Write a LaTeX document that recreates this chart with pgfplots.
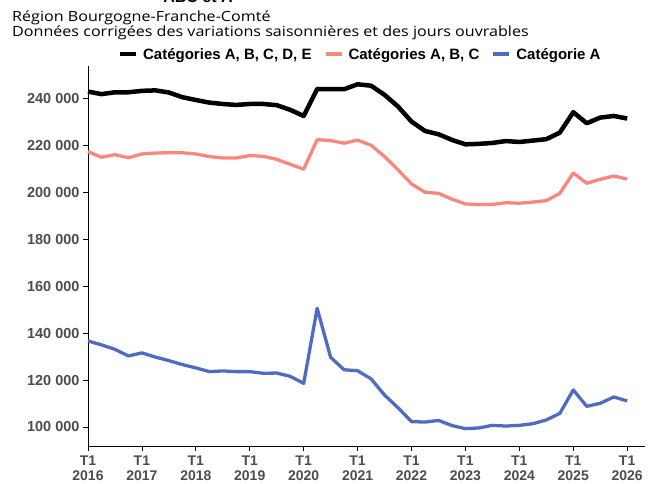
\documentclass[border=0pt]{standalone}
\usepackage{pgfplots}
\pgfplotsset{compat=1.18}
\usepackage{pgfplotstable}
\usepackage{fontspec}
\setmainfont{Liberation Sans}
\newfontfamily\subfont[FakeStretch=1.15]{Open Sans}
\definecolor{ticktext}{HTML}{4D4D4D}
\definecolor{pinkline}{HTML}{F8887E}
\definecolor{blueline}{HTML}{516BC2}

\pgfplotstableread{
x       abcde   abc     a
2016.00 243000  217400  136700
2016.25 241900  215000  135000
2016.50 242700  216100  133100
2016.75 242700  214800  130300
2017.00 243300  216400  131600
2017.25 243500  216800  129800
2017.50 242600  216900  128300
2017.75 240600  216900  126600
2018.00 239400  216400  125200
2018.25 238300  215300  123600
2018.50 237700  214700  123900
2018.75 237300  214700  123600
2019.00 237700  215700  123600
2019.25 237700  215400  122900
2019.50 237200  214100  123000
2019.75 235200  212000  121600
2020.00 232600  209900  118600
2020.25 244100  222500  150600
2020.50 244000  222100  129700
2020.75 244000  221000  124400
2021.00 246100  222300  124000
2021.25 245500  220100  120500
2021.50 241600  215300  113600
2021.75 236600  209600  108200
2022.00 230200  203600  102300
2022.25 226200  200100  102100
2022.50 224800  199600  102800
2022.75 222400  197100  100600
2023.00 220500  195100  99300
2023.25 220700  194800  99600
2023.50 221100  194900  100700
2023.75 221900  195600  100400
2024.00 221500  195400  100700
2024.25 222100  195900  101400
2024.50 222700  196500  103000
2024.75 225500  199600  105800
2025.00 234200  208300  115800
2025.25 229500  203900  108800
2025.50 231900  205600  110100
2025.75 232600  207000  112800
2026.00 231500  205700  111100
}\chomage

\begin{document}
\begin{tikzpicture}
\begin{axis}[
    at={(0pt,0pt)}, anchor=south west,
    scale only axis,
    width=557pt, height=380pt,
    xmin=2016, xmax=2026.33,
    ymin=91900, ymax=253900,
    scaled y ticks=false,
    axis lines=left,
    axis line style={black, line width=0.8pt, -},
    xtick={2016,2017,...,2026},
    xticklabels={T1\\2016,T1\\2017,T1\\2018,T1\\2019,T1\\2020,T1\\2021,T1\\2022,T1\\2023,T1\\2024,T1\\2025,T1\\2026},
    ytick={100000,120000,...,240000},
    yticklabels={100 000,120 000,140 000,160 000,180 000,200 000,220 000,240 000},
    tick align=outside,
    major tick length=5pt,
    tick style={black, line width=0.8pt},
    xticklabel style={align=center, font=\bfseries\fontsize{14}{15.5}\selectfont, text=ticktext, yshift=-1pt},
    yticklabel style={font=\bfseries\fontsize{14.5}{16}\selectfont, text=ticktext},
    legend columns=-1,
    legend style={draw=none, fill=none, at={(0.489,1.0303)}, anchor=center,
        font=\bfseries\fontsize{15}{17}\selectfont,
        /tikz/every odd column/.append style={column sep=3pt},
        /tikz/every even column/.append style={column sep=10pt}},
    legend image code/.code={\draw[#1, line width=4pt, line cap=butt] (0pt,0pt) -- (16pt,0pt);},
    clip=false,
]
\addplot[black, line width=4.5pt, line join=round] table[x=x, y=abcde] {\chomage};
\addlegendentry{Catégories A, B, C, D, E}
\addplot[pinkline, line width=3.3pt, line join=round] table[x=x, y=abc] {\chomage};
\addlegendentry{Catégories A, B, C}
\addplot[blueline, line width=3.3pt, line join=round] table[x=x, y=a] {\chomage};
\addlegendentry{Catégorie A}
\end{axis}
\node[anchor=base, font=\bfseries\fontsize{16}{18}\selectfont] at (110pt,443pt) {ABC et A};
\node[anchor=base west, inner sep=0pt, font=\subfont\fontsize{14}{15}\selectfont] at (-76pt,424pt) {Région Bourgogne-Franche-Comté};
\node[anchor=base west, inner sep=0pt, font=\subfont\fontsize{14}{15}\selectfont] at (-76pt,409pt) {Données corrigées des variations saisonnières et des jours ouvrables};
\pgfresetboundingbox
\path (-88pt,-38pt) rectangle (566pt,446pt);
\end{tikzpicture}
\end{document}
